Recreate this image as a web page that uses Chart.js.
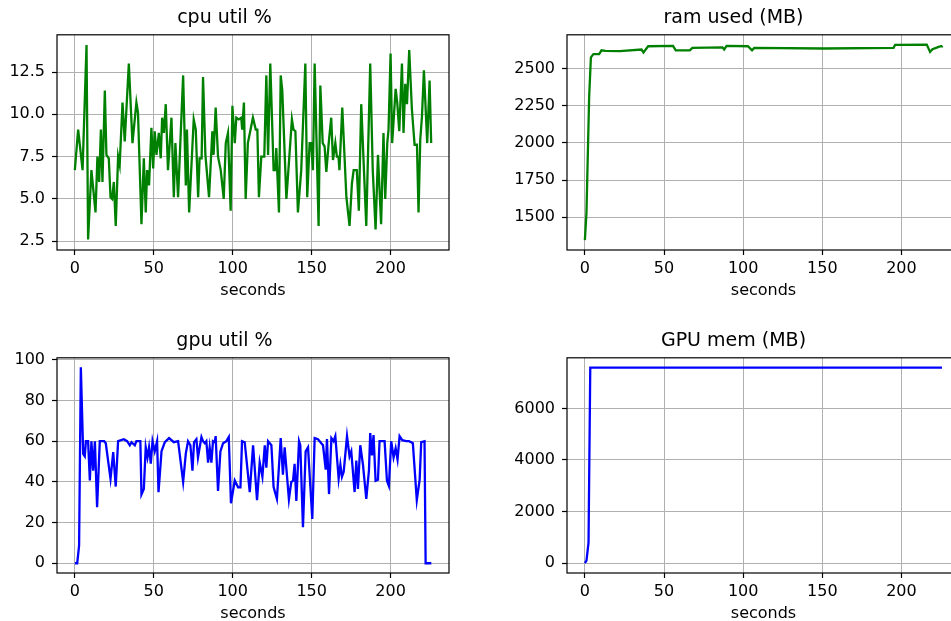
<!DOCTYPE html>
<html>
<head>
<meta charset="utf-8">
<script src="https://cdn.jsdelivr.net/npm/chart.js@4/dist/chart.umd.min.js"></script>
<style>
  html, body { margin: 0; padding: 0; background: #fff; overflow: hidden; width: 951px; height: 621px; }
  .panel { position: absolute; }
</style>
</head>
<body>
<div class="panel" style="left:0px; top:0px; width:460px; height:305px;"><canvas id="cpuChart"></canvas></div>
<div class="panel" style="left:507px; top:0px; width:453px; height:305px;"><canvas id="ramChart"></canvas></div>
<div class="panel" style="left:0px; top:323px; width:460px; height:305px;"><canvas id="gpuChart"></canvas></div>
<div class="panel" style="left:507px; top:323px; width:453px; height:305px;"><canvas id="gpuMemChart"></canvas></div>
<script>
// ------------------ DATA ------------------
const secondsTicks = [0, 50, 100, 150, 200];

const cpuSeconds = [0, 2.1, 4.9, 7.4, 8.4, 10.5, 13.1, 14.3, 15.4, 16.5, 17.5, 19.0, 20.0, 21.5, 22.6, 23.6, 24.7, 25.9, 27.4, 28.4,
    30.2, 31.6, 34.2, 36.5, 39.0, 40.0, 42.2, 43.7, 44.9, 45.8, 47.0, 48.5, 49.6, 50.6, 51.7, 53.2, 54.4, 55.3, 56.4, 57.6,
    59.0, 61.2, 62.7, 63.7, 65.4, 68.6, 70.3, 71.0, 72.4, 75.3, 76.6, 78.1, 79.0, 80.3, 81.2, 82.7, 85.0, 87.1, 87.9, 89.2,
    90.7, 92.4, 94.3, 95.6, 97.0, 98.7, 99.8, 101.3, 102.3, 103.8, 105.4, 106.0, 107.1, 108.2, 109.6, 112.8, 114.6, 115.6, 116.6, 118.1,
    120.0, 121.3, 122.4, 123.8, 125.9, 127.1, 127.6, 129.3, 130.4, 131.4, 134.0, 137.5, 138.5, 139.7, 141.3, 143.4, 146.0, 147.2, 148.7, 149.7,
    150.8, 151.9, 154.4, 155.5, 157.0, 158.2, 159.3, 160.8, 162.4, 163.5, 165.0, 166.0, 167.0, 167.6, 169.4, 172.0, 174.0, 175.5, 176.6, 178.6,
    179.9, 181.4, 184.6, 187.1, 188.7, 190.5, 192.0, 194.0, 195.5, 196.6, 197.9, 198.7, 200.0, 201.0, 203.2, 204.2, 205.5, 207.2, 208.2, 209.3,
    210.4, 211.8, 213.5, 215.2, 216.7, 217.7, 218.8, 219.9, 221.1, 223.2, 224.7, 225.7];
const cpuUtil = [6.7, 9.1, 6.7, 14.1, 2.6, 6.7, 4.2, 7.5, 6.0, 9.1, 6.0, 11.4, 7.6, 7.4, 5.1, 5.0, 6.0, 3.4, 7.5, 7.0,
    10.7, 8.4, 13.0, 8.3, 10.7, 10.1, 3.5, 7.4, 4.2, 6.7, 5.8, 9.2, 6.8, 9.0, 7.6, 8.9, 7.4, 9.8, 8.9, 10.6,
    6.7, 9.8, 5.1, 8.3, 5.1, 12.3, 5.8, 9.1, 4.2, 9.7, 9.1, 5.1, 7.4, 7.4, 12.2, 7.6, 5.1, 9.0, 7.6, 10.4,
    7.5, 6.7, 5.0, 8.3, 8.9, 4.3, 10.5, 8.3, 9.8, 9.7, 9.8, 9.1, 10.7, 5.0, 8.3, 9.8, 9.1, 9.1, 5.1, 7.5,
    7.5, 12.3, 7.6, 13.0, 6.7, 6.7, 8.0, 4.2, 12.3, 11.4, 5.0, 9.7, 9.1, 9.0, 4.2, 6.7, 13.0, 5.1, 8.3, 8.3,
    6.7, 13.0, 3.4, 11.7, 8.3, 8.1, 6.6, 8.3, 9.8, 7.3, 8.3, 7.5, 7.5, 6.7, 10.4, 5.1, 3.4, 5.9, 6.7, 6.7,
    4.3, 10.6, 3.4, 13.0, 6.7, 3.2, 7.6, 3.5, 8.9, 5.0, 8.3, 9.1, 13.6, 8.3, 11.5, 10.7, 9.0, 13.0, 8.9, 11.8,
    10.6, 13.8, 10.3, 8.2, 8.2, 4.2, 8.5, 9.9, 12.6, 8.3, 12.0, 8.3];
const cpuTicks = [2.5, 5.0, 7.5, 10.0, 12.5];

const ramSeconds = [0, 1.0, 2.7, 3.8, 5.4, 9.0, 10.5, 13, 22, 35.8, 37, 40, 55.7, 57.4, 66.3, 67.9, 86.9, 88.0, 89.5, 103,
    105.6, 107, 150.8, 195, 196, 216, 218.1, 219.6, 222.3, 223.5, 225, 225.6];
const ramUsed = [1346, 1530, 2310, 2574, 2596, 2596, 2622, 2618, 2616, 2627, 2607, 2649, 2651, 2622, 2622, 2638, 2642, 2627, 2651, 2649,
    2622, 2638, 2634, 2638, 2658, 2660, 2611, 2629, 2640, 2645, 2649, 2652];
const ramTicks = [1500, 1750, 2000, 2250, 2500];

const gpuSeconds = [0, 1.5, 2.7, 3.8, 5.3, 6.3, 7.0, 8.4, 9.5, 10.5, 11.6, 12.7, 14.1, 15.8, 18.6, 19.6, 22.6, 24.3, 25.9, 27.4,
    31.0, 33.1, 34.8, 35.9, 38.0, 39.0, 41.5, 42.2, 43.7, 44.9, 46.0, 47.0, 48.1, 49.2, 50.6, 52.1, 53.0, 54.9, 57.0, 59.7,
    62.7, 65.4, 68.6, 70.3, 71.7, 73.2, 74.5, 75.5, 77.0, 78.0, 80.2, 81.2, 82.3, 83.3, 84.4, 85.4, 86.5, 87.5, 88.6, 89.2,
    90.7, 92.2, 93.9, 96.0, 97.5, 98.9, 101.3, 103.4, 104.9, 105.9, 107.6, 110.8, 112.9, 115.4, 117.1, 118.8, 120.3, 121.3, 122.4, 124.5,
    125.9, 128.0, 130.4, 131.8, 132.9, 135.6, 137.1, 138.2, 139.2, 140.3, 142.0, 142.8, 144.5, 146.2, 147.7, 150.4, 151.9, 154.0, 156.1, 157.2,
    158.9, 159.7, 161.0, 162.5, 163.9, 165.0, 167.1, 168.2, 169.2, 170.3, 172.4, 174.0, 175.1, 177.2, 178.3, 179.3, 180.8, 182.5, 184.6, 186.3,
    187.1, 188.2, 189.2, 190.5, 192.0, 193.0, 196.2, 197.7, 198.9, 200.4, 201.9, 203.2, 204.4, 205.7, 207.4, 209.9, 211.6, 213.1, 214.1, 216.6,
    218.4, 219.4, 221.5, 222.2, 225.8];
const gpuUtil = [0, 0, 8.7, 96.4, 53.8, 52.6, 60, 60, 40.7, 60, 45.5, 60, 27.5, 60, 60, 59, 41.5, 54.6, 37.7, 60,
    61, 60, 58, 59.5, 58, 60, 60, 33.8, 36.5, 57, 52, 57, 49, 60, 55, 60, 34.9, 55, 59.5, 61.5,
    59.5, 60, 40, 54, 60, 58, 45.5, 59.5, 61, 52, 62, 60, 59, 60, 49.5, 57, 49.5, 60, 59.5, 62.5,
    35.6, 55, 59, 60, 62, 29.5, 40.7, 37.3, 37.3, 60, 59.5, 35, 58, 31, 49.5, 42.5, 58, 47, 60, 58,
    37.4, 31.6, 61.5, 43.5, 57, 31.4, 40, 40.5, 48.9, 30.6, 60, 58, 17.7, 55, 57, 21.8, 61.5, 61, 59, 58,
    46, 61, 34, 61.5, 60, 62.5, 41.6, 48.5, 42.5, 45, 62.5, 52.5, 55, 35, 50.5, 36.5, 58, 48.5, 31.6, 45.7,
    64, 53, 63, 40.5, 41, 60, 60, 40.5, 38, 60, 52, 56.5, 51, 62.5, 60.5, 60, 60, 59.5, 59, 31,
    41, 59.5, 60, 0, 0];
const gpuTicks = [0, 20, 40, 60, 80, 100];

const gpuMemSeconds = [0, 1.0, 2.3, 3.4, 225.6];
const gpuMem = [0, 100, 800, 7580, 7580];
const gpuMemTicks = [0, 2000, 4000, 6000];

// ------------------ STYLE ------------------
const FONT = "'DejaVu Sans', sans-serif";
const GRID = '#b0b0b0';

// black box round the plot area, drawn over the lines like matplotlib spines
const frame = {
    id: 'frame',
    afterDatasetsDraw(chart) {
        const { ctx, chartArea: a } = chart;
        ctx.save();
        ctx.strokeStyle = '#000';
        ctx.lineWidth = 1.2;
        ctx.strokeRect(a.left, a.top, a.right - a.left, a.bottom - a.top);
        ctx.restore();
    }
};

function makePanel(id, title, xs, ys, color, yTicks, yMin, yMax, fmt, yWidth, padRight) {
    const points = xs.map((x, i) => ({ x: x, y: ys[i] }));
    return new Chart(document.getElementById(id), {
        type: 'line',
        data: {
            datasets: [{
                data: points,
                borderColor: color,
                borderWidth: 2.3,
                pointRadius: 0,
                tension: 0,
                fill: false
            }]
        },
        options: {
            responsive: true,
            maintainAspectRatio: false,
            animation: false,
            layout: { padding: { top: 0, right: padRight, bottom: 0, left: 0 } },
            plugins: {
                legend: { display: false },
                tooltip: { enabled: false },
                title: {
                    display: true,
                    text: title,
                    color: '#000',
                    font: { family: FONT, size: 19, weight: 'normal' },
                    padding: { top: 7, bottom: 5 }
                }
            },
            scales: {
                x: {
                    type: 'linear',
                    min: -11.3,
                    max: 237,
                    afterBuildTicks: s => { s.ticks = secondsTicks.map(v => ({ value: v })); },
                    afterFit: s => { s.height = 55; },
                    grid: { color: GRID, lineWidth: 1, tickColor: '#000', tickLength: 5, tickWidth: 1.2 },
                    border: { display: false },
                    ticks: { color: '#000', font: { family: FONT, size: 16 }, padding: 4, maxRotation: 0, callback: v => String(v) },
                    title: { display: true, text: 'seconds', color: '#000', font: { family: FONT, size: 16 }, padding: { top: 0, bottom: 5 } }
                },
                y: {
                    min: yMin,
                    max: yMax,
                    afterBuildTicks: s => { s.ticks = yTicks.map(v => ({ value: v })); },
                    afterFit: s => { s.width = yWidth; },
                    grid: { color: GRID, lineWidth: 1, tickColor: '#000', tickLength: 5, tickWidth: 1.2 },
                    border: { display: false },
                    ticks: { color: '#000', font: { family: FONT, size: 16 }, padding: 7, callback: fmt }
                }
            }
        },
        plugins: [frame]
    });
}

makePanel('cpuChart', 'cpu util %', cpuSeconds, cpuUtil, 'green', cpuTicks, 1.98, 14.7, v => v.toFixed(1), 57, 11);
makePanel('ramChart', 'ram used (MB)', ramSeconds, ramUsed, 'green', ramTicks, 1280, 2726, v => String(v), 60, 0);
makePanel('gpuChart', 'gpu util %', gpuSeconds, gpuUtil, 'blue', gpuTicks, -4.8, 101, v => String(v), 57, 11);
makePanel('gpuMemChart', 'GPU mem (MB)', gpuMemSeconds, gpuMem, 'blue', gpuMemTicks, -379, 7960, v => String(v), 60, 0);
</script>
</body>
</html>
